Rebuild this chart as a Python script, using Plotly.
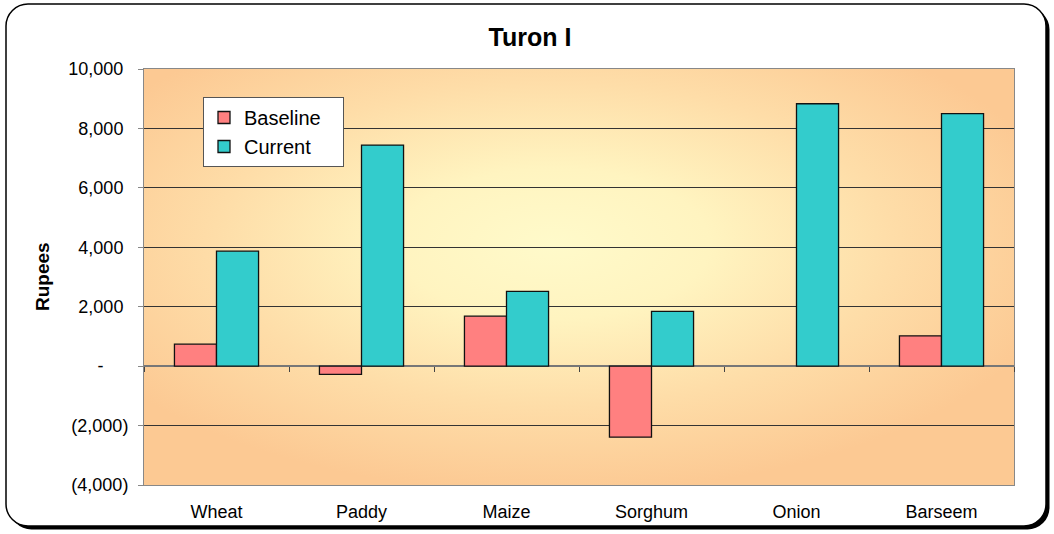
import base64
import plotly.graph_objects as go

categories = ["Wheat", "Paddy", "Maize", "Sorghum", "Onion", "Barseem"]
baseline = [740, -280, 1680, -2390, 0, 1020]
current = [3870, 7440, 2515, 1840, 8830, 8495]
y_tickvals = [-4000, -2000, 0, 2000, 4000, 6000, 8000, 10000]
NB = "\u00a0"
y_ticktext = ["(4,000)", "(2,000)", "-" + NB * 5, "2,000" + NB, "4,000" + NB,
              "6,000" + NB, "8,000" + NB, "10,000" + NB]
series_names = ["Baseline", "Current"]

W, H = 1054, 534
L, R, T, B = 144, 40, 69, 49
PW, PH = W - L - R, H - T - B
FONT = "Liberation Sans, Arial, sans-serif"

svg = f'''<svg xmlns="http://www.w3.org/2000/svg" width="{W}" height="{H}" viewBox="0 0 {W} {H}" preserveAspectRatio="none">
<defs>
<radialGradient id="g" cx="0.47" cy="0.42" r="0.6" fx="0.47" fy="0.42">
<stop offset="0" stop-color="#FFFACA"/>
<stop offset="0.3" stop-color="#FFF4C0"/>
<stop offset="0.65" stop-color="#FEDDA8"/>
<stop offset="1" stop-color="#FCC993"/>
</radialGradient>
</defs>
<rect x="9.5" y="7.5" width="1040" height="522" rx="22" ry="22" fill="#000"/>
<rect x="6" y="4" width="1040" height="522" rx="22" ry="22" fill="#fff" stroke="#000" stroke-width="1.5"/>
<rect x="{L}" y="{T}" width="{PW}" height="{PH}" fill="url(#g)"/>
</svg>'''
src = "data:image/svg+xml;base64," + base64.b64encode(svg.encode()).decode()


def outline_widths(vals):
    return [1.3 if v != 0 else 0 for v in vals]


fig = go.Figure()
fig.add_trace(go.Bar(x=categories, y=baseline, name=series_names[0] + NB * 3,
                     marker=dict(color="#FF8080",
                                 line=dict(color="#111", width=outline_widths(baseline)))))
fig.add_trace(go.Bar(x=categories, y=current, name=series_names[1] + NB * 3,
                     marker=dict(color="#33CCCC",
                                 line=dict(color="#111", width=outline_widths(current)))))
# helper trace on overlay axis to draw category boundary ticks on the zero line
fig.add_trace(go.Scatter(x=categories, y=[0] * len(categories), xaxis="x2", mode="none",
                         showlegend=False, hoverinfo="skip"))

ymin, ymax = -4000, 10000
fig.update_layout(
    width=W, height=H,
    margin=dict(l=L, r=R, t=T, b=B),
    paper_bgcolor="white",
    plot_bgcolor="rgba(0,0,0,0)",
    font=dict(family=FONT, size=18, color="#000"),
    barmode="group", bargap=0.42, bargroupgap=0,
    images=[dict(source=src, xref="paper", yref="paper", x=-L / PW, y=1 + T / PH,
                 sizex=W / PW, sizey=H / PH, xanchor="left", yanchor="top",
                 sizing="stretch", layer="below")],
    title=dict(text="<b>Turon I</b>", x=530 / W, xref="container", xanchor="center",
               y=1 - 37 / H, yref="container", yanchor="middle",
               font=dict(family=FONT, size=25, color="#000")),
    xaxis=dict(type="category", showgrid=False, ticks="", showline=True, linecolor="#888",
               linewidth=1, mirror=True, tickfont=dict(size=18), ticklabelstandoff=10,
               range=[-0.5, 5.5]),
    xaxis2=dict(type="category", overlaying="x", anchor="free",
                position=(0 - ymin) / (ymax - ymin), range=[-0.5, 5.5],
                tickson="boundaries", ticks="outside", ticklen=5, tickcolor="#444",
                tickwidth=1, showticklabels=False, showgrid=False, showline=False),
    yaxis=dict(range=[ymin, ymax], tickvals=y_tickvals, ticktext=y_ticktext,
               showgrid=True, gridcolor="#333", gridwidth=1,
               zeroline=True, zerolinecolor="#777", zerolinewidth=2,
               showline=True, linecolor="#888", linewidth=1, mirror=True,
               ticks="outside", ticklen=5, tickcolor="#888",
               tickfont=dict(size=18), ticklabelstandoff=6),
    legend=dict(x=(203 - L) / PW, y=1 - (97 - T) / PH, xanchor="left", yanchor="top",
                bgcolor="white", bordercolor="#555", borderwidth=1,
                font=dict(family=FONT, size=20, color="#000"), tracegroupgap=0),
    annotations=[dict(text="<b>Rupees</b>", xref="paper", yref="paper",
                      x=(42 - L) / PW, y=0.5, xanchor="center", yanchor="middle",
                      textangle=-90, showarrow=False,
                      font=dict(family=FONT, size=19, color="#000"))],
    showlegend=True,
)

fig.write_html("out.html", config={"displayModeBar": False},
               post_script="document.body.style.margin='0';document.body.style.padding='0';")
